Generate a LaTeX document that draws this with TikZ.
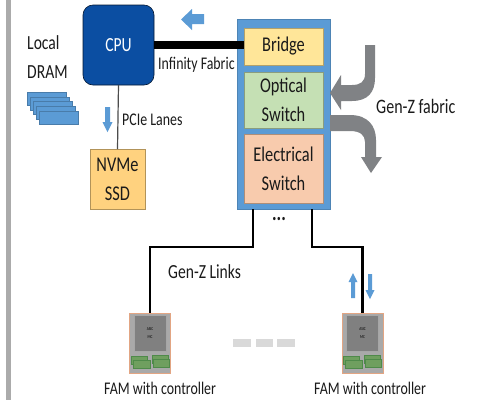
\documentclass[tikz,border=0pt]{standalone}
\usepackage{fontspec}
\setmainfont[FakeStretch=0.78]{Carlito}
\definecolor{cpublue}{HTML}{0B4EA2}
\definecolor{midblue}{HTML}{5B9BD5}
\definecolor{nvmeor}{HTML}{FFD27F}
\definecolor{bridgey}{HTML}{FFE699}
\definecolor{optg}{HTML}{C5E0B4}
\definecolor{elecor}{HTML}{F8CBAD}
\definecolor{arrgray}{HTML}{808285}
\definecolor{barg}{HTML}{ABABAB}
\definecolor{famg}{HTML}{A9A9A9}
\definecolor{famin}{HTML}{808080}
\definecolor{famedge}{HTML}{E2A583}
\definecolor{dimm}{HTML}{6F9F5F}
\definecolor{dimme}{HTML}{4F8A4A}
\definecolor{dashg}{HTML}{D9D9D9}
\definecolor{txt}{HTML}{1A1A1A}
\tikzset{
  x=1pt,y=-1pt,
  lbl/.style={inner sep=0pt,text=txt,font=\fontsize{17.8}{17.8}\selectfont},
  panel/.style={draw=#1!70!black,line width=.6pt,fill=#1,inner sep=0pt,outer sep=0pt},
  bluearrow/.style={fill=midblue,draw=none},
  grayarrow/.style={fill=arrgray,draw=none},
  link/.style={draw=black,line width=2.4pt},
  dimmbox/.style={fill=dimm,draw=dimme,line width=.4pt},
  famunit/.style={fill=famg,draw=famedge,line width=1pt,minimum width=41pt,minimum height=60pt,inner sep=0pt,outer sep=0pt},
  dashbar/.style={fill=dashg,draw=none},
  tiny/.style={inner sep=0pt,text=black,font=\fontsize{4.5}{6}\selectfont,align=center}
}
\begin{document}
\begin{tikzpicture}
\useasboundingbox (0,0) rectangle (485,400);
\fill[white] (0,0) rectangle (485,400);
\fill[barg] (6,0) rectangle (11,400);
% local DRAM
\foreach \i in {0,1,2,3,4}{
  \fill[midblue,draw=midblue!80!black,line width=.4pt] (27+3*\i,92+4.75*\i) rectangle ++(39,13);
}
\node[lbl,anchor=west,font=\fontsize{20}{20}\selectfont] (local) at (27,43) {Local};
\node[lbl,anchor=west,font=\fontsize{20}{20}\selectfont] (dram) at (27,72) {DRAM};
% CPU
\node[draw=black!70!cpublue,line width=.6pt,fill=cpublue,rounded corners=10pt,minimum width=71pt,minimum height=80pt,inner sep=0pt,outer sep=0pt,text=white,font=\fontsize{20}{20}\selectfont] (cpu) at (118.5,45) {CPU};
% NVMe
\node[panel=nvmeor,minimum width=55pt,minimum height=60pt,align=center,text=txt,font=\fontsize{21}{29}\selectfont] (nvme) at (117.5,179) {NVMe\\SSD};
% Switch
\node[fill=midblue,draw=midblue!85!black,line width=.6pt,minimum width=93pt,minimum height=190pt,inner sep=0pt,outer sep=0pt] (sw) at (283.5,114) {};
\node[panel=bridgey,minimum width=79pt,minimum height=37pt,text=txt,font=\fontsize{21}{21}\selectfont] (bridge) at (283.5,46.5) {Bridge};
\node[panel=optg,minimum width=79pt,minimum height=56pt,align=center,text=txt,font=\fontsize{21}{29}\selectfont] (optical) at (283.5,100) {Optical\\Switch};
\node[panel=elecor,minimum width=79pt,minimum height=69pt,align=center,text=txt,font=\fontsize{21}{29}\selectfont] (elec) at (283.5,168.5) {Electrical\\Switch};
% connectors
\draw[line width=8pt,black] (cpu.east) -- (cpu.east -| bridge.west);
\draw[draw=black!70,line width=1.2pt] (cpu.south) -- (nvme.north);
% FAM units
\node[famunit] (fam1) at (150,343) {};
\node[famunit] (fam2) at (362.5,343) {};
\foreach \n/\c in {fam1/150,fam2/362.5}{
  \node[fill=famin,draw=black!35,line width=.3pt,minimum width=32pt,minimum height=36pt,inner sep=0pt,tiny] (\n asic) at (\c,333) {ASIC\\[2pt]MC};
  \draw[dimmbox] (\c-19,356) rectangle ++(16,8);
  \draw[dimmbox] (\c-17,360) rectangle ++(17,8);
  \draw[dimmbox] (\c+2,355) rectangle ++(16,8);
  \draw[dimmbox] (\c+3,359) rectangle ++(16,8);
}
\coordinate (la) at (253,209);
\coordinate (lb) at (312,209);
\coordinate (ka) at (253,247);
\coordinate (kb) at (312,247);
\draw[link] (la) -- (ka) -| (fam1.north);
\draw[link] (lb) -- (kb) -| (fam2.north);
% blue arrows
\fill[bluearrow] (181,19.5) -- (192,9) -- (192,14) -- (204,14) -- (204,24) -- (192,24) -- (192,30) -- cycle;
\fill[bluearrow] (107.5,132) -- (102.5,122) -- (105,122) -- (105,107) -- (110,107) -- (110,122) -- (112.5,122) -- cycle;
\fill[bluearrow] (353,273) -- (357.5,282) -- (355,282) -- (355,298) -- (351,298) -- (351,282) -- (348.5,282) -- cycle;
\fill[bluearrow] (370,299) -- (374.5,290) -- (372,290) -- (372,274) -- (368,274) -- (368,290) -- (365.5,290) -- cycle;
% gray arrows
\fill[grayarrow] (375,45) -- (375,78) .. controls (375,92) and (368,101) .. (352,101) -- (341,101) -- (341,110) -- (330,93) -- (341,75) -- (341,85) -- (352,85) .. controls (360,85) and (365,82) .. (365,74) -- (365,45) -- cycle;
\fill[grayarrow] (330,115) -- (350,115) .. controls (368,115) and (376,126) .. (376,140) -- (376,157) -- (382,157) -- (371,173) -- (361,157) -- (365,157) -- (365,142) .. controls (365,135) and (360,131) .. (350,131) -- (330,131) -- cycle;
% dashes
\fill[dashbar] (233,339) rectangle (251,347);
\fill[dashbar] (256,339) rectangle (273,347);
\fill[dashbar] (277,339) rectangle (295,347);
% labels
\node[lbl,anchor=west] (inf) at (158,65) {Infinity Fabric};
\node[lbl,anchor=west] (pcie) at (122,120) {PCIe Lanes};
\node[lbl,anchor=west,font=\fontsize{20.5}{20.5}\selectfont] (genzf) at (376,106) {Gen-Z fabric};
\node[lbl,anchor=west,font=\fontsize{20}{20}\selectfont] (genzl) at (168,272) {Gen-Z Links};
\node[lbl,anchor=west] (f1) at (104,388) {FAM with controller};
\node[lbl,anchor=west] (f2) at (314,388) {FAM with controller};
\node[lbl,font=\bfseries\fontsize{22}{22}\selectfont] (dots) at (279,219) {...};
\end{tikzpicture}
\end{document}
